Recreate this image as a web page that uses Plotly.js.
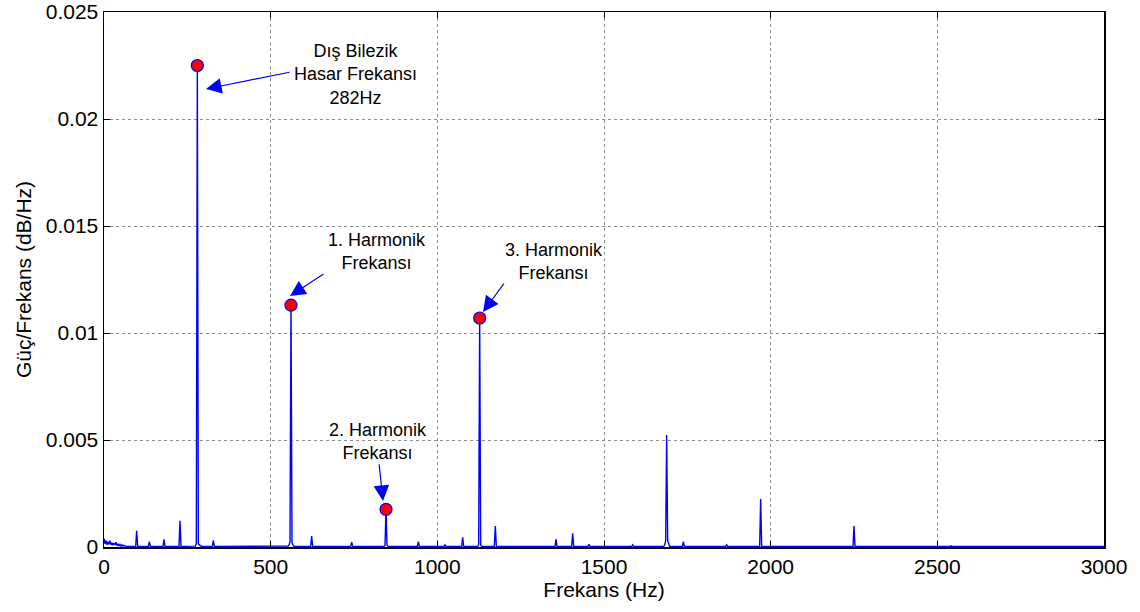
<!DOCTYPE html>
<html>
<head>
<meta charset="utf-8">
<script src="https://cdn.plot.ly/plotly-3.0.1.min.js"></script>
<style>html,body{margin:0;padding:0;background:#fff;}#chart{width:1140px;height:612px;}</style>
</head>
<body>
<div id="chart"></div>
<script>
// Spectrum samples (frequency in Hz, power spectral density)
const freqHz = [
  0,3,6,9,12,15,18,21,24,27,30,33,36,39,42,45,48,51,54,57,60,63,66,
  95,98,101,
  133,136,139,
  177,180,183,
  225,228,231,
  274,277,280,283,286,289,292,
  325,328,331,
  415,418,421,
  552,555,558,561,564,567,570,
  620,623,626,
  740,743,746,
  840,843,846,849,852,
  940,943,946,
  1020,1023,1026,
  1073,1076,1079,
  1121,1124,1127,1130,1133,
  1171,1174,1177,
  1353,1356,1359,
  1403,1406,1409,
  1452,1455,1458,
  1583,1586,1589,
  1679,1682,1685,1688,1691,1694,1697,
  1735,1738,1741,
  1865,1868,1871,
  1967,1970,1973,
  2247,2250,2253,
  2538,2541,2544,
  2817,2820,2823,
  3000
];
const psd = [
  0.0004,0.00015,0.0003,0.0001,0.00025,0.00012,0.0003,0.0001,0.0002,0.00008,0.00018,0.0001,0.00022,0.00006,0.00015,0.00005,0.00012,0.00004,0.0001,0.00004,0.00008,0.00003,0.00003,
  0.00003,0.00076,0.00003,
  0.00003,0.00025,0.00003,
  0.00003,0.00036,0.00003,
  0.00003,0.00123,0.00003,
  0.00004,0.00015,0.0225,0.00015,0.0001,0.00006,0.00003,
  0.00003,0.00031,0.00003,
  0.00003,0.00006,0.00003,
  0.00004,0.0001,0.00025,0.0113,0.0002,0.0001,0.00003,
  0.00003,0.00051,0.00003,
  0.00003,0.00022,0.00003,
  0.00003,0.00008,0.00176,0.00008,0.00003,
  0.00003,0.00025,0.00003,
  0.00003,0.0001,0.00003,
  0.00003,0.00045,0.00003,
  0.00003,0.0001,0.0107,0.0001,0.00003,
  0.00003,0.00098,0.00003,
  0.00003,0.00037,0.00003,
  0.00003,0.00064,0.00003,
  0.00003,0.00012,0.00003,
  0.00003,0.0001,0.00003,
  0.00003,0.0001,0.0003,0.00523,0.0003,0.0001,0.00003,
  0.00003,0.00025,0.00003,
  0.00003,0.0001,0.00003,
  0.00003,0.00224,0.00003,
  0.00003,0.00098,0.00003,
  0.00003,0.00006,0.00003,
  0.00003,0.00006,0.00003,
  0.00003
];

// Marked fault / harmonic peaks
const peakFreq = [280, 561, 846, 1127];
const peakVal  = [0.0225, 0.0113, 0.00176, 0.0107];

// Annotation texts and anchors
const labelText = ['Dış Bilezik<br>Hasar Frekansı<br>282Hz', '1. Harmonik<br>Frekansı', '2. Harmonik<br>Frekansı', '3. Harmonik<br>Frekansı'];
const labelX = [753, 819, 822, 1350];
const labelY = [0.0221, 0.01379, 0.00495, 0.01336];
const arrowHeadX = [306, 558, 837, 1137];
const arrowHeadY = [0.0214, 0.01173, 0.00215, 0.01098];
const arrowTailX = [561, 663, 825, 1203];
const arrowTailY = [0.0222, 0.0128, 0.00393, 0.01238];

const yTickVals = [0, 0.005, 0.01, 0.015, 0.02, 0.025];
const yTickText = ['0', '0.005', '0.01', '0.015', '0.02', '0.025'];
const xTickVals = [0, 500, 1000, 1500, 2000, 2500, 3000];
const xTickText = ['0', '500', '1000', '1500', '2000', '2500', '3000'];

const FONT = 'Liberation Sans, Arial, sans-serif';

const traces = [
  {x: freqHz, y: psd, type: 'scatter', mode: 'lines',
   line: {color: '#0000ff', width: 1.4}, hoverinfo: 'skip', showlegend: false},
  {x: peakFreq, y: peakVal, type: 'scatter', mode: 'markers',
   marker: {color: '#ff0000', size: 12, line: {color: '#0000ff', width: 1.2}},
   showlegend: false}
];

const annotations = [];
for (let i = 0; i < labelText.length; i++) {
  annotations.push({x: labelX[i], y: labelY[i], xref: 'x', yref: 'y', text: labelText[i],
    showarrow: false, font: {family: FONT, size: 18, color: '#000'}, align: 'center'});
  annotations.push({x: arrowHeadX[i], y: arrowHeadY[i], xref: 'x', yref: 'y',
    ax: arrowTailX[i], ay: arrowTailY[i], axref: 'x', ayref: 'y', text: '',
    showarrow: true, arrowhead: 2, arrowsize: 2.6, arrowwidth: 1.2, arrowcolor: '#0000ff', standoff: 0});
}

const axisCommon = {
  showline: true, linecolor: '#000', linewidth: 1.5, mirror: 'ticks',
  ticks: 'inside', ticklen: 6, tickcolor: '#000', tickwidth: 1,
  showgrid: true, gridcolor: '#8c8c8c', griddash: 'dot', gridwidth: 1,
  zeroline: false, tickfont: {family: FONT, size: 21, color: '#000'}
};

const layout = {
  width: 1140, height: 612,
  margin: {l: 104, r: 36, t: 12, b: 65},
  paper_bgcolor: '#fff', plot_bgcolor: '#fff',
  font: {family: FONT, color: '#000'},
  xaxis: Object.assign({}, axisCommon, {
    range: [0, 3000], tickmode: 'array', tickvals: xTickVals, ticktext: xTickText,
    title: {text: 'Frekans (Hz)', font: {family: FONT, size: 21, color: '#000'}, standoff: 4}
  }),
  yaxis: Object.assign({}, axisCommon, {
    range: [0, 0.025], tickmode: 'array', tickvals: yTickVals, ticktext: yTickText,
    title: {text: 'Güç/Frekans (dB/Hz)', font: {family: FONT, size: 21, color: '#000'}, standoff: 8}
  }),
  annotations: annotations,
  showlegend: false
};

Plotly.newPlot('chart', traces, layout, {displayModeBar: false, staticPlot: true});
</script>
</body>
</html>
